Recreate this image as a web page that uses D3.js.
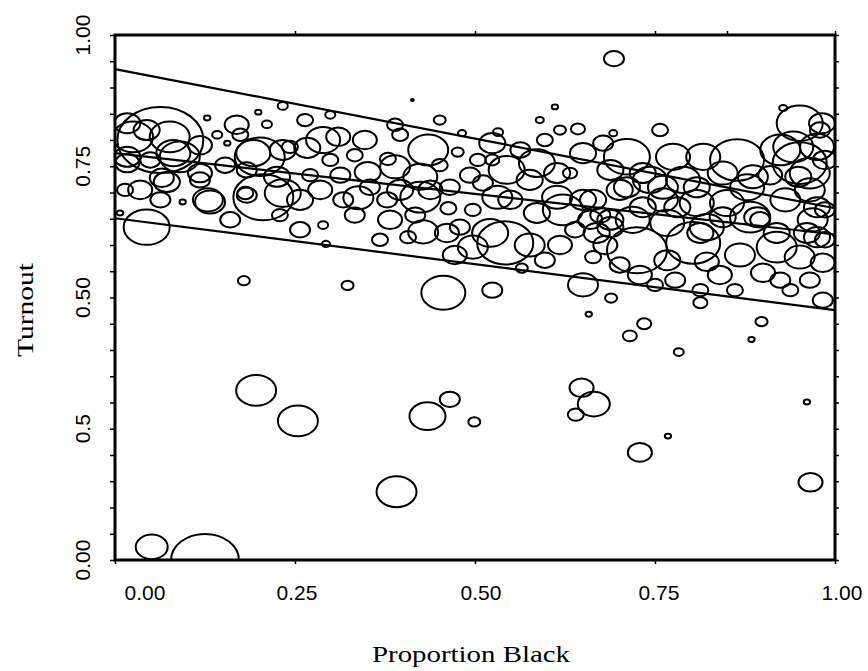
<!DOCTYPE html>
<html>
<head>
<meta charset="utf-8">
<script src="https://cdn.jsdelivr.net/npm/d3@7"></script>
<style>
  body { margin: 0; background: #fff; }
</style>
</head>
<body>
<svg id="chart" width="868" height="671"></svg>
<script>
// Tick values and their printed labels (the scan prints "0.5" at 0.25)
const xTicks = [0, 0.25, 0.5, 0.75, 1];
const xTickLabels = ['0.00', '0.25', '0.50', '0.75', '1.00'];
const yTicks = [0, 0.25, 0.5, 0.75, 1];
const yTickLabels = ['0.00', '0.5', '0.50', '0.75', '1.00'];
const topTicks = [0.25, 0.5, 0.75, 0.85, 1];

// One entry per precinct: proportion black, turnout, population (circle area)
const propBlack = [
  0.063, 0.025, 0.017, 0.090, 0.072, 0.118, 0.132, 0.183, 0.192, 0.233,
  0.233, 0.044, 0.007, 0.094, 0.017, 0.233, 0.199, 0.211, 0.169, 0.128,
  0.142, 0.156, 0.044, 0.076, 0.017, 0.081, 0.065, 0.129, 0.181, 0.206,
  0.201, 0.257, 0.285, 0.289, 0.289, 0.267, 0.310, 0.243, 0.118, 0.183,
  0.225, 0.317,
  0.413, 0.611, 0.643, 0.532, 0.482, 0.435, 0.476, 0.524, 0.524, 0.504,
  0.333, 0.379, 0.389, 0.351, 0.338, 0.378, 0.424, 0.424, 0.463, 0.465,
  0.511, 0.531, 0.497, 0.544, 0.576, 0.586, 0.614, 0.632, 0.614, 0.650,
  0.650, 0.678, 0.669, 0.664, 0.650, 0.456, 0.524, 0.565, 0.542, 0.497,
  0.428, 0.461, 0.407, 0.382, 0.479, 0.521, 0.622, 0.586, 0.660, 0.438,
  0.396, 0.354,
  0.928, 0.951, 0.982, 0.924, 0.951, 0.975, 0.949, 0.965, 0.757, 0.692,
  0.711, 0.688, 0.775, 0.817, 0.864, 0.886, 0.844, 0.789, 0.743, 0.701,
  0.761, 0.808, 0.850, 0.882, 0.896, 0.719, 0.688, 0.767, 0.822, 0.725,
  0.803, 0.767, 0.822, 0.919, 0.951, 0.969, 0.975, 0.983, 0.900, 0.924,
  0.813, 0.813, 0.983,
  0.733, 0.711, 0.761, 0.808, 0.878, 0.664, 0.733, 0.781, 0.844, 0.892,
  0.688, 0.813, 0.919, 0.942, 0.965, 0.975, 0.961,
  0.333, 0.313, 0.299, 0.347, 0.396, 0.451, 0.563, 0.597, 0.549, 0.493,
  0.451, 0.417, 0.368, 0.472, 0.576, 0.597, 0.618, 0.639, 0.674, 0.681,
  0.701, 0.729, 0.750, 0.778, 0.840, 0.868, 0.861, 0.938, 0.965, 0.986,
  0.986, 0.986, 0.979, 0.931, 0.910, 0.618, 0.590, 0.257, 0.229, 0.160,
  0.063, 0.035, 0.014, 0.049, 0.118, 0.153, 0.174, 0.264, 0.299, 0.271,
  0.389,
  0.693, 0.179, 0.323, 0.293, 0.658, 0.689, 0.735, 0.715, 0.783, 0.884,
  0.898, 0.196, 0.254, 0.434, 0.465, 0.499, 0.648, 0.665, 0.640, 0.768,
  0.729, 0.961, 0.966, 0.391, 0.051, 0.125
];
const turnout = [
  0.800, 0.806, 0.832, 0.768, 0.720, 0.737, 0.682, 0.695, 0.775, 0.781,
  0.699, 0.634, 0.661, 0.682, 0.756, 0.865, 0.853, 0.830, 0.829, 0.842,
  0.810, 0.794, 0.819, 0.806, 0.768, 0.775, 0.728, 0.686, 0.699, 0.691,
  0.768, 0.686, 0.705, 0.638, 0.800, 0.785, 0.806, 0.787, 0.724, 0.743,
  0.730, 0.686,
  0.876, 0.863, 0.821, 0.815, 0.813, 0.781, 0.777, 0.794, 0.762, 0.762,
  0.771, 0.764, 0.749, 0.739, 0.690, 0.686, 0.730, 0.691, 0.670, 0.710,
  0.718, 0.691, 0.667, 0.743, 0.724, 0.756, 0.737, 0.737, 0.691, 0.686,
  0.775, 0.794, 0.623, 0.577, 0.524, 0.509, 0.514, 0.556, 0.604, 0.596,
  0.625, 0.623, 0.615, 0.648, 0.634, 0.623, 0.667, 0.661, 0.648, 0.705,
  0.705, 0.710,
  0.861, 0.832, 0.832, 0.781, 0.756, 0.787, 0.730, 0.705, 0.819, 0.813,
  0.768, 0.743, 0.768, 0.768, 0.762, 0.730, 0.737, 0.724, 0.724, 0.705,
  0.686, 0.680, 0.680, 0.653, 0.648, 0.648, 0.648, 0.642, 0.634, 0.590,
  0.604, 0.571, 0.568, 0.596, 0.577, 0.648, 0.615, 0.566, 0.547, 0.533,
  0.514, 0.490, 0.495,
  0.737, 0.710, 0.710, 0.710, 0.710, 0.686, 0.672, 0.672, 0.653, 0.653,
  0.634, 0.623, 0.623, 0.787, 0.737, 0.672, 0.623,
  0.657, 0.733, 0.762, 0.800, 0.810, 0.838, 0.781, 0.800, 0.686, 0.733,
  0.752, 0.657, 0.610, 0.581, 0.600, 0.571, 0.600, 0.629, 0.657, 0.600,
  0.562, 0.543, 0.524, 0.533, 0.543, 0.581, 0.514, 0.514, 0.533, 0.610,
  0.667, 0.762, 0.819, 0.686, 0.733, 0.819, 0.838, 0.629, 0.657, 0.648,
  0.686, 0.705, 0.705, 0.762, 0.790, 0.752, 0.810, 0.838, 0.848, 0.733,
  0.829,
  0.955, 0.532, 0.523, 0.602, 0.468, 0.499, 0.450, 0.427, 0.396, 0.420,
  0.454, 0.323, 0.265, 0.274, 0.306, 0.263, 0.328, 0.297, 0.277, 0.236,
  0.205, 0.301, 0.148, 0.130, 0.025, 0.000
];
const population = [
  1850, 400, 170, 400, 170, 145, 225, 100, 290, 170,
  325, 530, 10, 10, 145, 25, 10, 25, 145, 10,
  25, 10, 170, 400, 170, 290, 145, 225, 64, 900,
  625, 170, 145, 25, 290, 170, 145, 64, 100, 100,
  170, 100,
  2, 10, 50, 25, 16, 400, 36, 170, 50, 64,
  64, 64, 225, 170, 225, 100, 290, 400, 64, 100,
  100, 225, 64, 325, 170, 325, 170, 50, 225, 170,
  170, 100, 170, 64, 225, 485, 100, 36, 785, 225,
  225, 145, 64, 145, 100, 325, 400, 170, 145, 145,
  170, 100,
  16, 530, 170, 400, 730, 290, 170, 225, 64, 16,
  530, 170, 290, 290, 730, 225, 225, 290, 290, 170,
  225, 290, 290, 400, 100, 290, 170, 290, 290, 900,
  730, 170, 145, 400, 225, 225, 170, 145, 145, 100,
  64, 50, 100,
  170, 170, 225, 170, 290, 170, 170, 170, 170, 170,
  170, 170, 170, 400, 400, 170, 170,
  100, 100, 64, 145, 64, 36, 100, 64, 145, 100,
  64, 100, 64, 145, 225, 100, 145, 100, 100, 145,
  100, 145, 64, 100, 145, 225, 64, 64, 100, 100,
  100, 145, 100, 225, 145, 36, 16, 100, 64, 100,
  100, 145, 64, 100, 145, 100, 64, 64, 25, 64,
  64,
  100, 36, 36, 16, 10, 36, 50, 50, 25, 10,
  36, 400, 400, 325, 100, 36, 145, 256, 64, 10,
  145, 10, 145, 400, 256, 1150
];

// Fitted lines, given at proportion black = 0 and 1
const lineX = [0, 1];
const upperLine = [0.935, 0.670];
const middleLine = [0.775, 0.620];
const lowerLine = [0.651, 0.476];

const margin = { top: 35, right: 33, bottom: 111, left: 115 };
const width = 868 - margin.left - margin.right;
const height = 671 - margin.top - margin.bottom;

const svg = d3.select('#chart');
const g = svg.append('g').attr('transform', `translate(${margin.left},${margin.top})`);

const x = d3.scaleLinear().domain([0, 1]).range([0, width]);
const y = d3.scaleLinear().domain([0, 1]).range([height, 0]);
const r = d3.scaleSqrt().domain([0, 1850]).range([0, 43]);

g.append('clipPath').attr('id', 'plot-clip')
  .append('rect').attr('width', width).attr('height', height);

const points = propBlack.map((p, i) => ({ p, t: turnout[i], pop: population[i] }));

// circles are drawn a bit wider than tall, as in the scan
g.append('g')
  .attr('clip-path', 'url(#plot-clip)')
  .selectAll('ellipse')
  .data(points)
  .join('ellipse')
  .attr('cx', d => x(d.p))
  .attr('cy', d => y(d.t))
  .attr('rx', d => r(d.pop))
  .attr('ry', d => r(d.pop) / 1.3)
  .attr('fill', 'none')
  .attr('stroke', '#000')
  .attr('stroke-width', 2);

const line = d3.line().x(d => x(d[0])).y(d => y(d[1]));
[upperLine, middleLine, lowerLine].forEach(vals => {
  g.append('path')
    .datum(lineX.map((v, i) => [v, vals[i]]))
    .attr('d', line)
    .attr('fill', 'none')
    .attr('stroke', '#000')
    .attr('stroke-width', 2.2);
});

// axes: ticks only, labels drawn separately
const minorY = d3.range(0, 1.0001, 0.05);
g.append('g').call(d3.axisLeft(y).tickValues(minorY).tickSize(5).tickFormat(''));
g.append('g').attr('transform', `translate(${width},0)`)
  .call(d3.axisRight(y).tickValues(minorY).tickSize(4).tickFormat(''));
g.append('g').attr('transform', `translate(0,${height})`)
  .call(d3.axisBottom(x).tickValues(xTicks).tickSize(4).tickFormat(''));
g.append('g')
  .call(d3.axisTop(x).tickValues(topTicks).tickSize(4).tickFormat(''));
g.selectAll('.domain').remove();
g.selectAll('.tick line').attr('stroke', '#000').attr('stroke-width', 1.5);

g.append('rect')
  .attr('width', width)
  .attr('height', height)
  .attr('fill', 'none')
  .attr('stroke', '#000')
  .attr('stroke-width', 3);

// tick labels
const labelNudge = [30, 2, 6, 4, 7];
g.selectAll('.xlab')
  .data(xTicks)
  .join('text')
  .attr('class', 'xlab')
  .attr('x', (d, i) => x(d) + labelNudge[i])
  .attr('y', height + 40)
  .attr('text-anchor', 'middle')
  .style('font-family', 'Liberation Sans, Arial, sans-serif')
  .style('font-size', '21px')
  .text((d, i) => xTickLabels[i]);

g.selectAll('.ylab')
  .data(yTicks)
  .join('text')
  .attr('class', 'ylab')
  .attr('transform', d => `translate(-25,${y(d)}) rotate(-90)`)
  .attr('text-anchor', 'middle')
  .style('font-family', 'Liberation Sans, Arial, sans-serif')
  .style('font-size', '21px')
  .text((d, i) => yTickLabels[i]);

// axis titles
svg.append('text')
  .attr('x', 471)
  .attr('y', 662)
  .attr('text-anchor', 'middle')
  .attr('textLength', 198)
  .attr('lengthAdjust', 'spacingAndGlyphs')
  .style('font-family', 'Liberation Serif, Times New Roman, serif')
  .style('font-size', '24px')
  .text('Proportion Black');

svg.append('text')
  .attr('transform', 'translate(33,310) rotate(-90)')
  .attr('text-anchor', 'middle')
  .attr('textLength', 94)
  .attr('lengthAdjust', 'spacingAndGlyphs')
  .style('font-family', 'Liberation Serif, Times New Roman, serif')
  .style('font-size', '24px')
  .text('Turnout');
</script>
</body>
</html>
